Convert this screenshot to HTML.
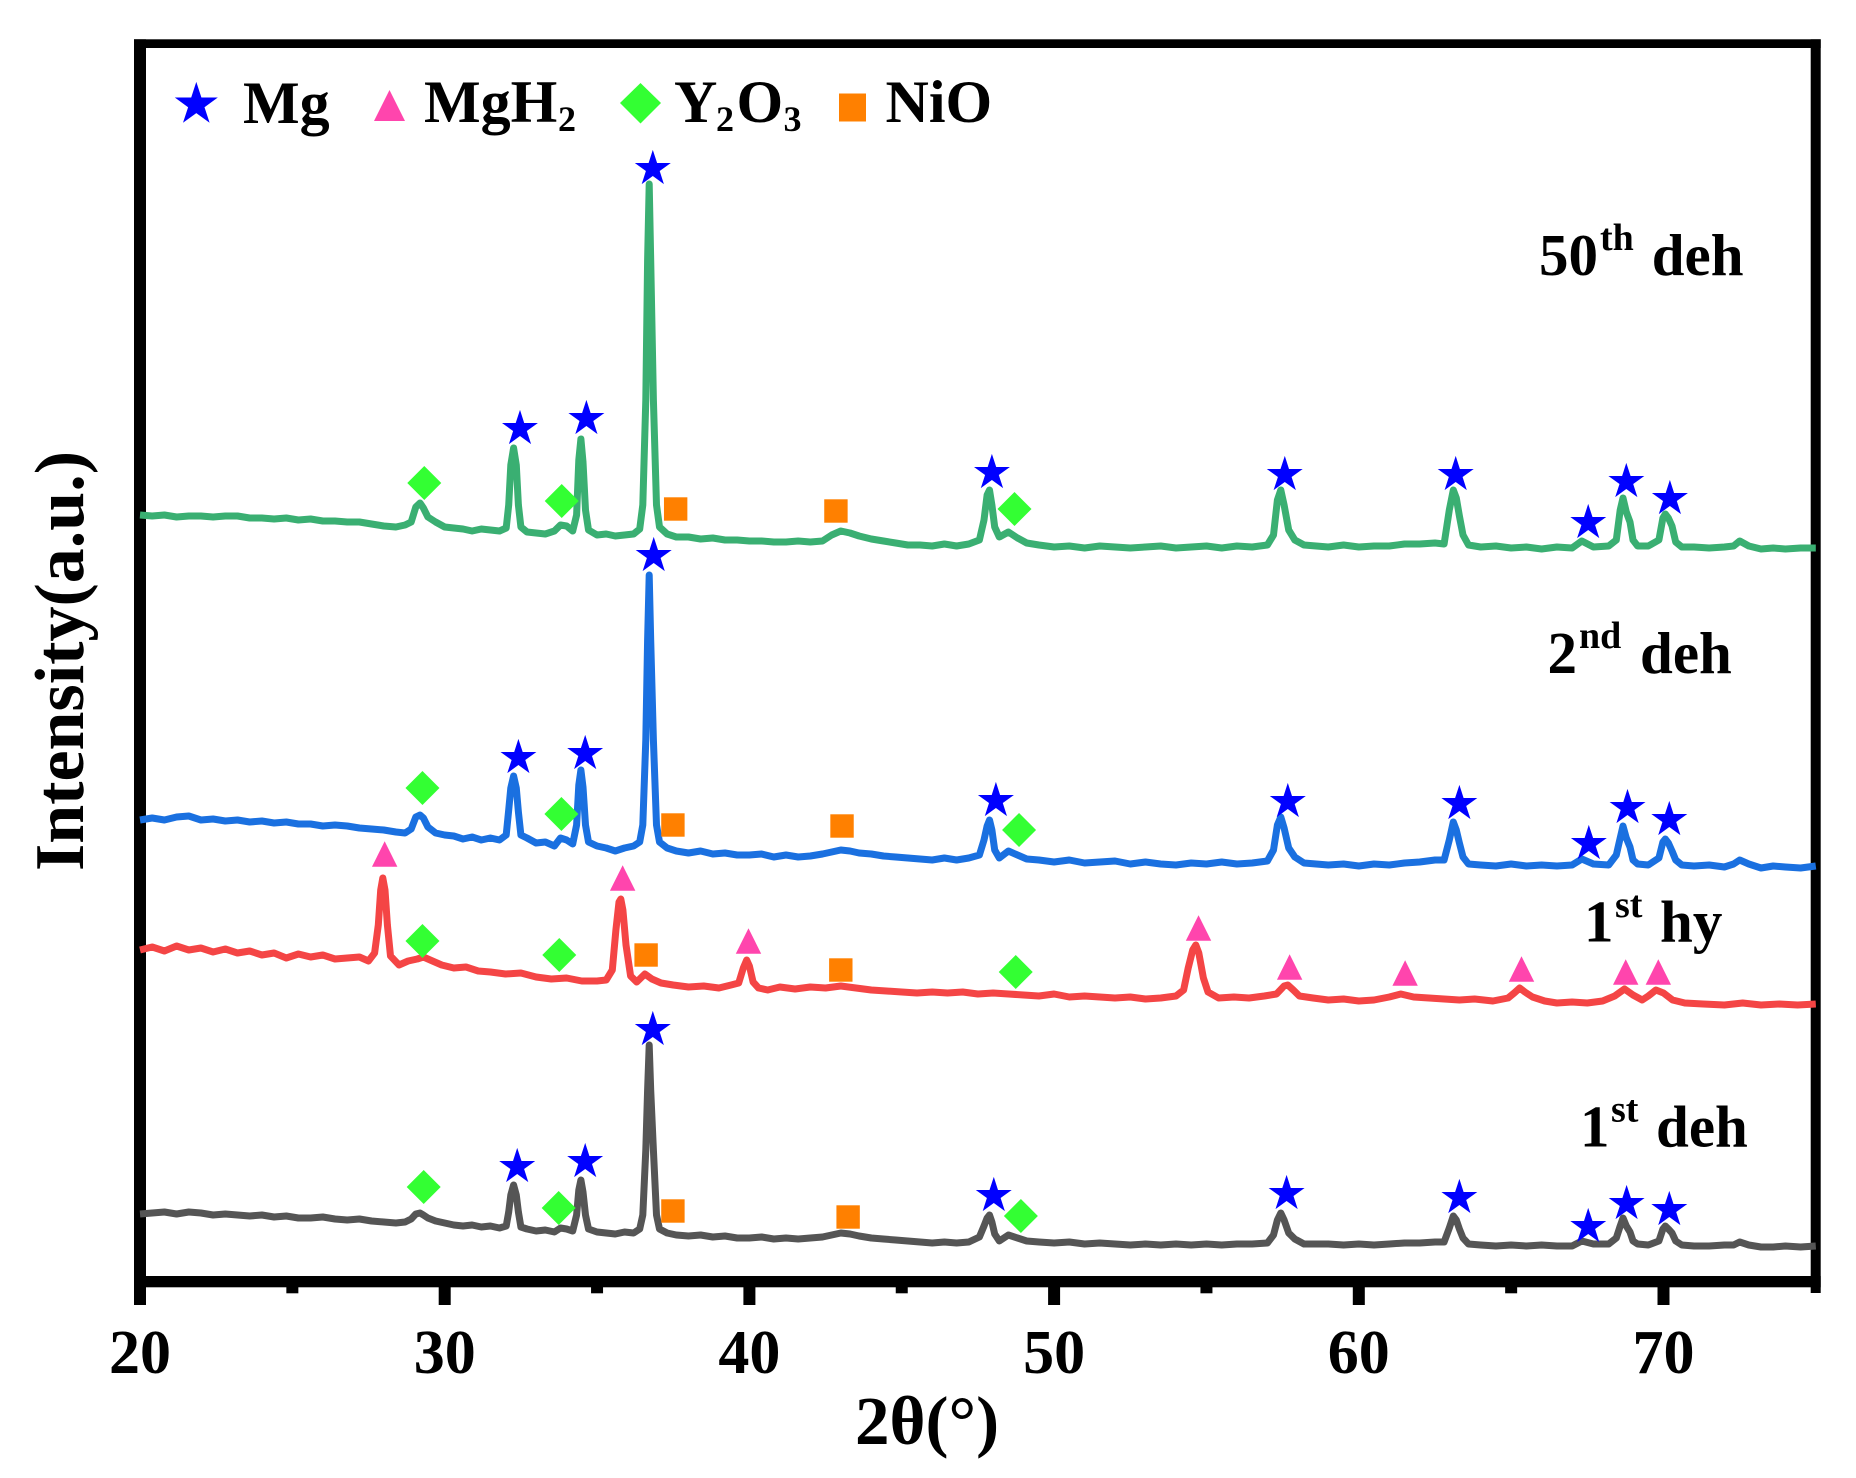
<!DOCTYPE html>
<html lang="en">
<head>
<meta charset="utf-8">
<title>XRD patterns</title>
<style>
html,body{margin:0;padding:0;background:#fff;}
svg{display:block;}
text{font-family:"Liberation Serif",serif;font-weight:bold;fill:#000;}
</style>
</head>
<body>
<svg id="chart" xmlns="http://www.w3.org/2000/svg" width="1856" height="1478" viewBox="0 0 1856 1478">
<rect x="0" y="0" width="1856" height="1478" fill="#fff"/>
<g id="frame">
<rect x="134" y="39.3" width="12" height="1265.7" fill="#000"/>
<rect x="134" y="39.3" width="1686.7" height="8.7" fill="#000"/>
<rect x="1810.7" y="39.3" width="10" height="1253.7" fill="#000"/>
<rect x="134" y="1276" width="1686.7" height="11.3" fill="#000"/>
</g>
<g id="ticks"></g>
<g id="curves"></g>
<g id="markers"></g>

<g id="legend">
<polygon id="legend-star" fill="#0000ff"/>
<text x="243" y="123" font-size="60">Mg</text>
<polygon points="389.5,90 405,121 374,121" fill="#ff45ad"/>
<text x="424" y="122" font-size="60">MgH</text>
<text x="558" y="131" font-size="36">2</text>
<polygon points="640.5,83 661,103 640.5,123.5 620,103" fill="#33ff33"/>
<text x="674" y="122" font-size="60">Y</text>
<text x="716" y="131" font-size="36">2</text>
<text x="736.5" y="122" font-size="60">O</text>
<text x="783.5" y="131" font-size="36">3</text>
<rect x="839" y="93.5" width="27" height="28" fill="#ff8000"/>
<text x="885.5" y="122" font-size="60">NiO</text>
</g>

<g>
<text x="1539" y="275" font-size="59">50</text>
<text x="1600" y="250" font-size="38">th</text>
<text x="1651.7" y="275" font-size="59">deh</text>
</g>
<g>
<text x="1547.5" y="673" font-size="59">2</text>
<text x="1579" y="648" font-size="38">nd</text>
<text x="1640" y="673" font-size="59">deh</text>
</g>
<g>
<text x="1584" y="941.6" font-size="59">1</text>
<text x="1615" y="917" font-size="38">st</text>
<text x="1660" y="941.6" font-size="59">hy</text>
</g>
<g>
<text x="1580" y="1146.6" font-size="59">1</text>
<text x="1611" y="1121.7" font-size="38">st</text>
<text x="1656" y="1146.6" font-size="59">deh</text>
</g>

<text x="855" y="1444" font-size="69">2θ(°)</text>
<text transform="translate(83,871) rotate(-90)" font-size="70">Intensity(a.u.)</text>
<g id="ticklabels"></g>
</svg>

<script>
const majorTicks = [20, 30, 40, 50, 60, 70];
const minorTicks = [25, 35, 45, 55, 65];

const dehTheta = [
20,20.4,20.8,21.2,21.6,22,22.4,22.8,23.2,23.6,24,24.4,24.8,25.2,25.6,26,26.4,26.8,27.2,27.6,28,28.4,28.7,
28.9,29.05,29.19,29.3,29.45,29.7,30,
30.3,30.6,30.9,31.2,31.5,31.8,
32.02,32.1,32.17,32.26,32.35,32.42,32.5,
32.7,33,33.3,33.6,33.8,34,34.2,
34.33,34.4,34.47,34.54,34.62,34.72,
35,35.3,35.6,35.9,36.2,36.4,
36.5,36.6,36.66,36.71,36.76,36.85,36.95,37.05,
37.3,37.6,38,38.4,38.8,39.2,39.6,40,40.4,40.8,41.2,41.6,42,42.4,
42.7,43,43.3,43.6,44,44.4,44.8,45.2,45.6,46,46.4,46.8,47.2,
47.55,47.7,47.8,47.88,47.96,48.05,48.2,48.5,48.8,49.1,
49.5,50,50.5,51,51.5,52,52.5,53,53.5,54,54.5,55,55.5,56,56.5,57,
57.2,57.33,57.44,57.55,57.7,57.9,58.2,58.6,
59,59.5,60,60.5,61,61.5,62,62.5,62.8,
62.97,63.1,63.2,63.3,63.42,63.6,
64,64.5,65,65.5,66,66.5,67,67.32,67.7,68.2,68.45,
68.58,68.67,68.78,68.9,69,69.15,69.5,
69.85,69.98,70.06,70.16,70.28,70.4,70.6,
71,71.5,72,72.3,72.5,72.8,73.2,73.6,74,74.5,75
];

const deh50Values = [
767,766,767,765,766,766,765,766,766,764,764,763,764,762,763,761,761,760,760,758,756,755,757,
760,775,779,774,765,760,755,
754,753,751,753,752,751,
754,777,817,834,817,777,755,
750,749,748,751,757,756,751,
767,822,843,820,772,752,
747,748,746,747,748,753,
777,882,1022,1098,1022,882,777,755,
748,745,745,743,744,742,742,741,741,740,740,741,740,741,
747,751,749,746,743,741,739,737,737,736,738,736,738,
742,762,787,792,777,755,745,750,744,739,
737,735,736,734,736,735,734,735,736,734,735,736,734,736,735,737,
747,782,792,777,752,742,737,736,
735,737,735,736,736,738,738,739,738,
772,792,784,766,747,737,
735,736,734,735,733,735,734,741,735,736,742,
772,784,770,760,742,736,736,
742,764,768,764,756,740,735,
735,734,735,736,741,736,733,734,733,734,734
];

const deh2Values = [
462,464,462,465,466,462,463,461,462,460,461,459,460,458,458,456,457,456,454,453,452,450,449,
453,465,467,464,455,449,447,
446,443,445,442,444,442,
447,472,494,506,494,470,447,
444,439,440,436,444,442,438,
457,497,512,495,457,440,
436,434,431,434,436,440,
457,542,642,707,642,542,457,440,
434,431,429,431,428,429,427,427,428,425,427,425,426,428,
430,432,431,429,428,426,425,424,423,422,424,422,424,
427,442,456,462,452,432,424,431,427,423,
422,420,422,419,420,421,418,420,418,417,419,418,420,418,419,421,
432,457,465,454,434,425,419,418,
417,418,416,418,417,419,420,422,422,
442,460,452,439,425,418,
417,416,418,416,417,416,417,423,418,417,427,
444,456,444,435,422,418,417,
424,440,443,439,431,422,417,
416,417,415,418,422,418,414,416,415,414,416
];

const deh1Values = [
68,69,70,68,70,69,67,68,67,66,67,65,66,64,64,65,63,62,63,61,60,59,60,
63,68,69,67,64,61,59,
57,56,57,55,56,54,
56,70,87,97,87,70,55,
53,51,52,50,54,53,51,
67,92,102,90,67,53,
50,49,48,50,49,53,
67,132,192,237,192,132,67,53,
49,47,46,47,45,46,44,44,45,43,44,43,44,45,
47,49,48,46,44,43,42,41,40,39,40,39,40,
45,56,64,67,60,48,41,47,44,41,
40,39,40,38,39,38,37,38,37,38,37,38,37,38,38,39,
47,62,69,62,49,43,38,38,
38,37,38,37,38,39,39,40,40,
54,66,62,53,44,38,
37,36,37,36,37,36,36,41,38,38,44,
56,64,56,50,41,38,37,
41,53,56,53,49,41,37,
36,36,37,37,40,37,35,35,36,35,36
];

const hyTheta = [
20,20.4,20.8,21.2,21.6,22,22.4,22.8,23.2,23.6,
24,24.4,24.8,25.2,25.6,26,26.4,26.8,27.2,27.5,
27.7,27.82,27.9,27.97,28.04,28.12,28.22,28.5,28.8,29.1,
29.3,29.6,29.9,30.3,30.7,31.1,31.5,32,32.5,33,
33.5,34,34.5,35,35.3,35.5,35.62,35.72,35.78,35.85,
35.95,36.1,36.3,36.57,36.8,37.1,37.5,38,38.5,39,
39.4,39.65,39.8,39.91,40,40.12,40.3,40.6,41,41.5,
42,42.5,43,43.5,44,44.5,45,45.5,46,46.5,
47,47.5,48,48.5,49,49.5,50,50.5,51,51.5,
52,52.5,53,53.5,54,54.25,54.4,54.55,54.65,54.75,
54.9,55.05,55.4,55.9,56.4,56.9,57.3,57.55,57.67,57.85,
58.05,58.5,59,59.5,60,60.5,61,61.38,61.8,62.3,
62.8,63.3,63.8,64.4,64.9,65.1,65.28,65.45,65.7,66.1,
66.5,67,67.5,68,68.4,68.72,69,69.3,69.5,69.75,
70,70.3,70.7,71.3,72,72.6,73.2,73.8,74.4,75
];

const hyValues = [
332,335,331,336,332,334,330,333,329,331,
327,329,324,328,325,327,323,324,325,321,
329,357,392,404,392,357,326,317,321,323,
325,321,317,314,315,311,310,308,309,305,
303,304,301,301,302,312,352,380,383,372,
337,306,300,308,303,299,297,295,296,294,
297,299,314,322,316,300,294,292,295,293,
295,294,296,294,292,291,290,289,290,289,
290,288,289,288,287,286,288,285,286,285,
284,285,283,284,286,292,314,332,337,329,
304,290,284,285,284,286,288,296,297,292,
286,284,282,283,281,282,285,288,285,284,
283,282,283,281,284,289,294,290,285,281,
279,280,279,281,286,293,287,282,286,292,
289,282,279,278,277,279,277,278,277,278
];

const starTheta = [36.83,32.47,34.65,47.96,57.57,63.18,67.53,68.78,70.21, 36.86,32.42,34.61,48.09,57.67,63.3,67.55,68.82,70.19, 36.83,32.38,34.61,48.02,57.63,63.3,67.53,68.79,70.19];
const starValue = [1115,855,865,811,809,809,761,802,785, 728,526,530,483,482,480,440,476,464, 254,117,122,88,90,86,57,80,74];
const triangleTheta = [28.03,35.84,39.97,54.74,57.73,61.52,65.34,68.76,69.83];
const triangleValue = [428,404,341,354,315,309,313,310,310];
const diamondTheta = [29.33,33.84,48.7, 29.27,33.83,48.85, 29.27,33.76,48.74, 29.31,33.74,48.91];
const diamondValue = [799,781,773, 494,468,452, 341,327,310, 95,74,66];
const squareTheta = [37.58,42.84, 37.49,43.04, 36.61,43, 37.49,43.24];
const squareValue = [773,771, 457,456, 327,312, 71,65];

const SVGNS = 'http://www.w3.org/2000/svg';
function xScale(t){ return 140 + (t - 20) * 30.47; }
function yScale(v){ return 1282 - v; }
function starPoints(cx, cy, R){
  const pts = [];
  for (let i = 0; i < 10; i++){
    const r = i % 2 ? R * 0.382 : R;
    const a = -Math.PI / 2 + i * Math.PI / 5;
    pts.push((cx + r * Math.cos(a)).toFixed(1) + ',' + (cy + r * Math.sin(a)).toFixed(1));
  }
  return pts.join(' ');
}

const tickGroup = document.getElementById('ticks');
const labelGroup = document.getElementById('ticklabels');
const curveGroup = document.getElementById('curves');
const markerGroup = document.getElementById('markers');

majorTicks.forEach(function(t){
  const tick = document.createElementNS(SVGNS, 'rect');
  
  
  tick.setAttribute('x', xScale(t) - 6);
  tick.setAttribute('y', 1282);
  tick.setAttribute('width', 12);
  tick.setAttribute('height', 23);
  tickGroup.appendChild(tick);
  const label = document.createElementNS(SVGNS, 'text');
  
  
  label.setAttribute('x', xScale(t));
  label.setAttribute('y', 1373);
  label.setAttribute('font-size', 62);
  label.setAttribute('text-anchor', 'middle');
  label.textContent = String(t);
  labelGroup.appendChild(label);
});
minorTicks.forEach(function(t){
  const tick = document.createElementNS(SVGNS, 'rect');
  
  
  tick.setAttribute('x', xScale(t) - 6);
  tick.setAttribute('y', 1282);
  tick.setAttribute('width', 12);
  tick.setAttribute('height', 11.3);
  tickGroup.appendChild(tick);
});

function drawCurve(thetas, values, color){
  const d = thetas.map(function(t, i){
    return (i ? 'L' : 'M') + xScale(t).toFixed(1) + ' ' + yScale(values[i]).toFixed(1);
  }).join('');
  const line = document.createElementNS(SVGNS, 'path');
  
  
  line.setAttribute('d', d);
  line.setAttribute('fill', 'none');
  line.setAttribute('stroke', color);
  line.setAttribute('stroke-width', 7);
  line.setAttribute('stroke-linejoin', 'round');
  line.setAttribute('stroke-linecap', 'butt');
  curveGroup.appendChild(line);
}
drawCurve(dehTheta, deh1Values, '#555555');
drawCurve(hyTheta, hyValues, '#f44545');
drawCurve(dehTheta, deh2Values, '#1a70e0');
drawCurve(dehTheta, deh50Values, '#3aaf72');

starTheta.forEach(function(t, i){
  const star = document.createElementNS(SVGNS, 'polygon');
  
  
  star.setAttribute('points', starPoints(xScale(t), yScale(starValue[i]) + 1.8, 18.9));
  star.setAttribute('fill', '#0000ff');
  markerGroup.appendChild(star);
});
triangleTheta.forEach(function(t, i){
  const cx = xScale(t), cy = yScale(triangleValue[i]);
  const tri = document.createElementNS(SVGNS, 'polygon');
  
  
  tri.setAttribute('points', cx + ',' + (cy - 12.7) + ' ' + (cx + 12.7) + ',' + (cy + 12.7) + ' ' + (cx - 12.7) + ',' + (cy + 12.7));
  tri.setAttribute('fill', '#ff45ad');
  markerGroup.appendChild(tri);
});
diamondTheta.forEach(function(t, i){
  const cx = xScale(t), cy = yScale(diamondValue[i]);
  const dia = document.createElementNS(SVGNS, 'polygon');
  
  
  dia.setAttribute('points', cx + ',' + (cy - 17) + ' ' + (cx + 17) + ',' + cy + ' ' + cx + ',' + (cy + 17) + ' ' + (cx - 17) + ',' + cy);
  dia.setAttribute('fill', '#33ff33');
  markerGroup.appendChild(dia);
});
squareTheta.forEach(function(t, i){
  const sq = document.createElementNS(SVGNS, 'rect');
  
  
  sq.setAttribute('x', xScale(t) - 11.7);
  sq.setAttribute('y', yScale(squareValue[i]) - 11.7);
  sq.setAttribute('width', 23.4);
  sq.setAttribute('height', 23.4);
  sq.setAttribute('fill', '#ff8000');
  markerGroup.appendChild(sq);
});
document.getElementById('legend-star').setAttribute('points', starPoints(196.3, 104.5, 22.6));
</script>
</body>
</html>
